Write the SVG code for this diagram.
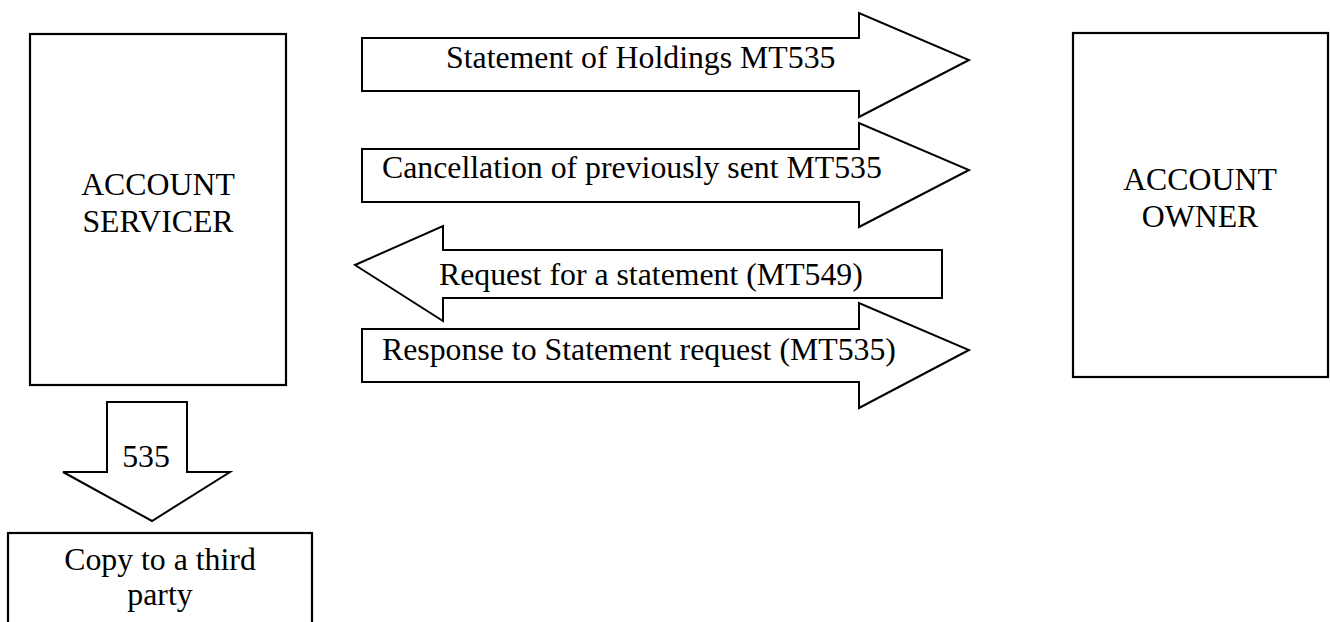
<svg xmlns="http://www.w3.org/2000/svg" width="1330" height="622" viewBox="0 0 1330 622">
<style>
.box{fill:#fff;stroke:#000;stroke-width:2.2}
.arr{fill:#fff;stroke:#000;stroke-width:2;stroke-linejoin:miter}
.t{font-family:"Liberation Serif","Times New Roman",serif;font-size:31.8px;fill:#000}
.c{text-anchor:middle}
</style>
<rect width="1330" height="622" fill="#fff"/>
<g id="account-servicer">
<rect class="box" x="30" y="34" width="256" height="351"/>
<text class="t c" x="158" y="195">ACCOUNT</text>
<text class="t c" x="158" y="232">SERVICER</text>
</g>
<g id="account-owner">
<rect class="box" x="1073" y="33" width="255" height="344"/>
<text class="t c" x="1200" y="190">ACCOUNT</text>
<text class="t c" x="1200" y="227">OWNER</text>
</g>
<g id="third-party">
<rect class="box" x="8" y="533" width="304" height="120"/>
<text class="t c" x="160" y="570">Copy to a third</text>
<text class="t c" x="160" y="605">party</text>
</g>
<g id="connectors">
<g id="statement-of-holdings">
<polygon class="arr" points="362,38 859,38 859,13 969,60 859,117 859,91 362,91"/>
<text class="t" x="446" y="68">Statement of Holdings MT535</text>
</g>
<g id="cancellation">
<polygon class="arr" points="362,149 859,149 859,123 969,170 859,227 859,202 362,202"/>
<text class="t" x="382" y="178">Cancellation of previously sent MT535</text>
</g>
<g id="request">
<polygon class="arr" points="942,250 443,250 443,226 355,265 443,321 443,298 942,298"/>
<text class="t" x="439" y="285">Request for a statement (MT549)</text>
</g>
<g id="response">
<polygon class="arr" points="362,329 859,329 859,303 969,350 859,408 859,382 362,382"/>
<text class="t" x="382" y="360">Response to Statement request (MT535)</text>
</g>
<g id="copy-535">
<polygon class="arr" points="107,402 187,402 187,472 230,472 152,521 63,472 107,472"/>
<text class="t c" x="146" y="467">535</text>
</g>
</g>
</svg>
